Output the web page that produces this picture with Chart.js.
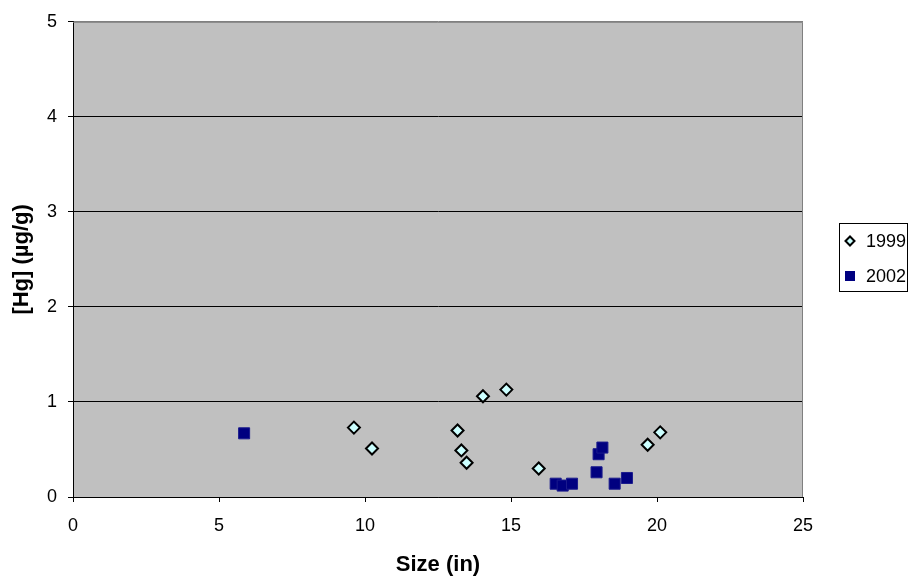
<!DOCTYPE html>
<html>
<head>
  <title>Hg vs Size</title>
  <script src="https://cdn.jsdelivr.net/npm/chart.js"></script>
  <style>
    body { margin: 0; background: #fff; }
  </style>
</head>
<body>
<canvas id="hgChart" width="914" height="580"></canvas>

<script>
  // values
  const size1999 = [9.62, 10.24, 13.17, 13.30, 13.48, 14.04, 14.84, 15.95, 19.68, 20.11];
  const hg1999   = [0.73, 0.51, 0.70, 0.49, 0.36, 1.06, 1.13, 0.30, 0.55, 0.68];
  const size2002 = [5.86, 16.53, 16.77, 17.09, 17.93, 18.00, 18.13, 18.55, 18.97];
  const hg2002   = [0.67, 0.14, 0.12, 0.14, 0.26, 0.45, 0.52, 0.14, 0.20];
  const seriesNames = ['1999', '2002'];

  const toPoints = (xs, ys) => xs.map((x, i) => ({ x: x, y: ys[i] }));

  // gray plot background + gray top/right frame
  const plotArea = {
    id: 'plotArea',
    beforeDraw(chart) {
      const { ctx, chartArea: a } = chart;
      ctx.save();
      ctx.fillStyle = '#c0c0c0';
      ctx.fillRect(a.left, a.top, a.right - a.left, a.bottom - a.top);
      ctx.restore();
    },
    beforeDatasetsDraw(chart) {
      const { ctx, chartArea: a } = chart;
      ctx.save();
      ctx.strokeStyle = '#808080';
      ctx.lineWidth = 1;
      ctx.beginPath();
      ctx.moveTo(a.left, a.top + 0.5);
      ctx.lineTo(a.right - 0.5, a.top + 0.5);
      ctx.lineTo(a.right - 0.5, a.bottom);
      ctx.stroke();
      ctx.restore();
    }
  };

  // boxed legend on the right
  const boxLegend = {
    id: 'boxLegend',
    afterDraw(chart) {
      const ctx = chart.ctx;
      const x0 = 839, y0 = 223, w = 69, h = 69;
      ctx.save();
      ctx.fillStyle = '#fff';
      ctx.fillRect(x0, y0, w, h);
      ctx.strokeStyle = '#000';
      ctx.lineWidth = 1;
      ctx.strokeRect(x0 + 0.5, y0 + 0.5, w - 1, h - 1);
      ctx.font = '18px "Liberation Sans", Arial, sans-serif';
      ctx.textBaseline = 'middle';
      ctx.fillStyle = '#000';
      chart.data.datasets.forEach((ds, i) => {
        const cy = y0 + 18 + i * 35;
        const cx = x0 + 11;
        ctx.beginPath();
        if (ds.pointStyle === 'rectRot') {
          ctx.moveTo(cx - 4.5, cy);
          ctx.lineTo(cx, cy - 4.5);
          ctx.lineTo(cx + 4.5, cy);
          ctx.lineTo(cx, cy + 4.5);
          ctx.closePath();
          ctx.fillStyle = ds.backgroundColor;
          ctx.fill();
          ctx.strokeStyle = ds.borderColor;
          ctx.lineWidth = 2;
          ctx.stroke();
        } else {
          ctx.fillStyle = ds.backgroundColor;
          ctx.fillRect(cx - 5, cy - 5, 10, 10);
        }
        ctx.fillStyle = '#000';
        ctx.fillText(ds.label, x0 + 27, cy + 1);
      });
      ctx.restore();
    }
  };

  const ctx = document.getElementById('hgChart').getContext('2d');
  new Chart(ctx, {
    type: 'scatter',
    data: {
      datasets: [{
        label: seriesNames[0],
        data: toPoints(size1999, hg1999),
        pointStyle: 'rectRot',
        pointRadius: 6,
        pointHoverRadius: 6,
        backgroundColor: '#ccffff',
        borderColor: '#000000',
        borderWidth: 2
      }, {
        label: seriesNames[1],
        data: toPoints(size2002, hg2002),
        pointStyle: 'rect',
        pointRadius: 7.8,
        pointHoverRadius: 7.8,
        backgroundColor: '#000080',
        borderColor: '#1a1a8c',
        borderWidth: 1
      }]
    },
    options: {
      responsive: false,
      animation: false,
      events: [],
      layout: { padding: { top: 21, right: 111, left: 0, bottom: 0 } },
      plugins: {
        legend: { display: false },
        tooltip: { enabled: false }
      },
      scales: {
        x: {
          type: 'linear',
          min: 0, max: 25,
          afterFit: s => { s.height = 83; },
          ticks: {
            stepSize: 5,
            color: '#000',
            padding: 13,
            font: { family: '"Liberation Sans", Arial, sans-serif', size: 18 }
          },
          grid: { drawOnChartArea: false, tickLength: 5, color: '#000' },
          border: { color: '#000', width: 1 },
          title: {
            display: true, text: 'Size (in)', color: '#000',
            padding: { top: 0, bottom: 2 },
            font: { family: '"Liberation Sans", Arial, sans-serif', size: 22, weight: 'bold' }
          }
        },
        y: {
          min: 0, max: 5,
          afterFit: s => { s.width = 73; },
          ticks: {
            stepSize: 1,
            color: '#000',
            padding: 11,
            font: { family: '"Liberation Sans", Arial, sans-serif', size: 18 }
          },
          grid: {
            tickLength: 5,
            tickColor: '#000',
            color: c => (c.tick && c.tick.value === 5 ? '#808080' : '#000')
          },
          border: { color: '#000', width: 1 },
          title: {
            display: true, text: '[Hg] (µg/g)', color: '#000',
            padding: { top: 9, bottom: 0 },
            font: { family: '"Liberation Sans", Arial, sans-serif', size: 22, weight: 'bold' }
          }
        }
      }
    },
    plugins: [plotArea, boxLegend]
  });
</script>
</body>
</html>
